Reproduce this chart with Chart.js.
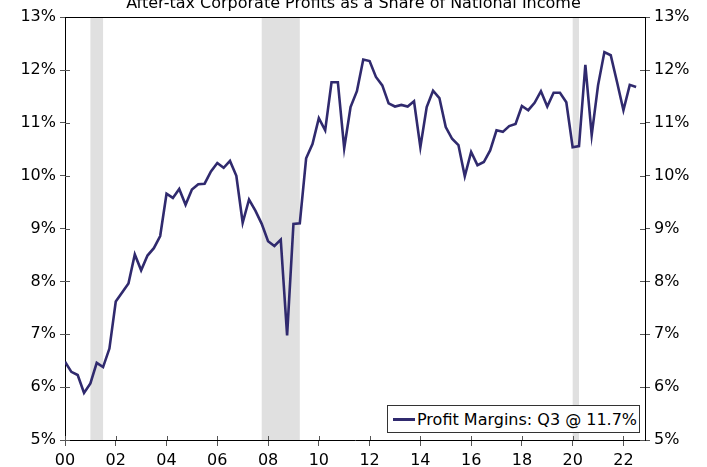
<!DOCTYPE html>
<html>
<head>
<meta charset="utf-8">
<script src="https://cdn.jsdelivr.net/npm/chart.js@4"></script>
<style>
  body { margin: 0; overflow: hidden; background: #fff; }
  #wrap { position: absolute; left: 0; top: -10px; width: 707px; height: 479px; }
  #legend {
    position: absolute; left: 387px; top: 405px; width: 251px; height: 26px;
    border: 1px solid #333; background: #fff;
    font: 16px "DejaVu Sans", Verdana, sans-serif; color: #000;
    display: flex; align-items: center;
  }
  #legend .swatch { display: inline-block; width: 22px; height: 3px; margin: 0 2px 0 5px; }
</style>
</head>
<body>
<div id="wrap"><canvas id="myChart1" width="707" height="479"></canvas></div>
<div id="legend"><span class="swatch"></span><span class="text"></span></div>
<script>
// after-tax corporate profits / national income, quarterly from 2000 Q1
const firstYear = 2000;
const margins = [
    6.48, 6.29, 6.23, 5.89, 6.07, 6.46, 6.38, 6.73,     // 00-01
    7.62, 7.79, 7.96, 8.51, 8.21, 8.49, 8.63, 8.86,     // 02-03
    9.66, 9.58, 9.75, 9.45, 9.74, 9.84, 9.85, 10.08,    // 04-05
    10.24, 10.15, 10.28, 10.0, 9.11, 9.55, 9.34, 9.09,  // 06-07
    8.76, 8.67, 8.79, 6.98, 9.09, 9.10, 10.33, 10.60,   // 08-09
    11.09, 10.86, 11.77, 11.77, 10.52, 11.30, 11.60, 12.20, // 10-11
    12.17, 11.87, 11.71, 11.37, 11.31, 11.34, 11.31, 11.41, // 12-13
    10.54, 11.30, 11.61, 11.47, 10.92, 10.70, 10.58, 9.99,  // 14-15
    10.45, 10.20, 10.26, 10.48, 10.86, 10.83, 10.94, 10.98, // 16-17
    11.32, 11.24, 11.38, 11.60, 11.31, 11.57, 11.57, 11.39, // 18-19
    10.54, 10.56, 12.10, 10.77, 11.71, 12.34, 12.28, 11.77, // 20-21
    11.24, 11.72, 11.68                                      // 22
];
const quarters = margins.map((v, i) => firstYear + i / 4);
const recessions = [[2001.0, 2001.5], [2007.75, 2009.25], [2020.0, 2020.25]];
const yTicks = [5, 6, 7, 8, 9, 10, 11, 12, 13];

const lineColor = '#302a6e';
const fontFamily = '"DejaVu Sans", Verdana, sans-serif';

const shading = {
    id: 'shading',
    beforeDatasetsDraw(chart) {
        const { ctx, chartArea, scales } = chart;
        ctx.save();
        ctx.fillStyle = '#e0e0e0';
        recessions.forEach(([a, b]) => {
            const x1 = scales.x.getPixelForValue(a);
            const x2 = scales.x.getPixelForValue(b);
            ctx.fillRect(x1, chartArea.top, x2 - x1, chartArea.bottom - chartArea.top);
        });
        ctx.restore();
    }
};

// inner half of the tick marks + top border line
const frame = {
    id: 'frame',
    afterDraw(chart) {
        const { ctx, chartArea, scales } = chart;
        ctx.save();
        ctx.strokeStyle = '#555';
        ctx.lineWidth = 1;
        ctx.beginPath();
        scales.y.ticks.forEach(t => {
            const y = Math.round(scales.y.getPixelForValue(t.value)) + 0.5;
            ctx.moveTo(chartArea.left, y);
            ctx.lineTo(chartArea.left + 5, y);
            ctx.moveTo(chartArea.right, y);
            ctx.lineTo(chartArea.right - 5, y);
        });
        scales.x.ticks.forEach(t => {
            const x = Math.round(scales.x.getPixelForValue(t.value)) + 0.5;
            ctx.moveTo(x, chartArea.bottom);
            ctx.lineTo(x, chartArea.bottom - 4);
        });
        ctx.stroke();
        ctx.strokeStyle = '#000';
        ctx.beginPath();
        ctx.moveTo(chartArea.left, Math.round(chartArea.top) + 0.5);
        ctx.lineTo(chartArea.right, Math.round(chartArea.top) + 0.5);
        ctx.stroke();
        ctx.restore();
    }
};

function yAxis(position, width) {
    return {
        type: 'linear',
        position: position,
        min: 5,
        max: 13,
        afterBuildTicks(scale) {
            scale.ticks = yTicks.map(v => ({ value: v }));
        },
        afterFit(scale) { scale.width = width; },
        grid: { display: true, drawOnChartArea: false, tickLength: 5, color: '#555' },
        border: { display: true, color: '#000', width: 1 },
        ticks: {
            padding: 4,
            color: '#000',
            font: { family: fontFamily, size: 16 },
            callback: v => v + '%'
        }
    };
}

const ctx = document.getElementById('myChart1');
const label = 'Profit Margins: Q3 @ ' + margins[margins.length - 1].toFixed(1) + '%';

window.myChart = new Chart(ctx, {
    type: 'line',
    data: {
        datasets: [{
            label: label,
            data: quarters.map((q, i) => ({ x: q, y: margins[i] })),
            borderColor: lineColor,
            borderWidth: 2.6,
            pointRadius: 0,
            tension: 0,
            yAxisID: 'y'
        }]
    },
    options: {
        responsive: false,
        animation: false,
        layout: { padding: 0 },
        plugins: {
            legend: { display: false },
            tooltip: { enabled: false },
            title: {
                display: true,
                text: 'After-tax Corporate Profits as a Share of National Income',
                color: '#000',
                font: { family: fontFamily, size: 16, weight: 'normal' },
                padding: { top: 4, bottom: 4 }
            }
        },
        scales: {
            x: {
                type: 'linear',
                min: 2000,
                max: 2022.85,
                afterBuildTicks(scale) {
                    const t = [];
                    for (let yr = 2000; yr <= 2022; yr += 2) t.push({ value: yr });
                    scale.ticks = t;
                },
                afterFit(scale) { scale.height = 29; },
                grid: { display: true, drawOnChartArea: false, tickLength: 6, color: '#555' },
                border: { display: true, color: '#000', width: 1 },
                ticks: {
                    padding: 5,
                    maxRotation: 0,
                    color: '#000',
                    font: { family: fontFamily, size: 16 },
                    callback: v => String(v % 100).padStart(2, '0')
                }
            },
            y: yAxis('left', 65),
            y2: yAxis('right', 62)
        }
    },
    plugins: [shading, frame]
});

document.querySelector('#legend .swatch').style.background = lineColor;
document.querySelector('#legend .text').textContent = label;
</script>
</body>
</html>
